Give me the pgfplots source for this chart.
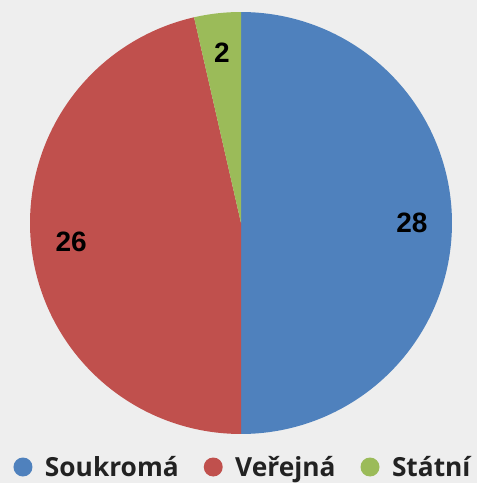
\documentclass[border=0pt]{standalone}
\usepackage{pgfplots}
\pgfplotsset{compat=1.18}
\usepackage{pgfplotstable}
\usepackage{fontspec}
\setmainfont{Open Sans}
\newfontfamily\numfont{Liberation Sans}

\definecolor{bg}{HTML}{EEEEEE}
\definecolor{cS}{HTML}{4F81BD}
\definecolor{cV}{HTML}{C0504D}
\definecolor{cT}{HTML}{9BBB59}
\definecolor{txt}{HTML}{222222}

\pgfplotstableread{
label    value
Soukroma 28
Verejna  26
Statni   2
}\piedata

\pgfplotstablegetelem{0}{value}\of\piedata \let\vA\pgfplotsretval
\pgfplotstablegetelem{1}{value}\of\piedata \let\vB\pgfplotsretval
\pgfplotstablegetelem{2}{value}\of\piedata \let\vC\pgfplotsretval
\pgfmathsetmacro\tot{\vA+\vB+\vC}
% slice boundaries, clockwise from 12 o'clock
\pgfmathsetmacro\aA{90}
\pgfmathsetmacro\aB{\aA-360*\vA/\tot}
\pgfmathsetmacro\aC{\aB-360*\vB/\tot}
\pgfmathsetmacro\aD{\aC-360*\vC/\tot}
% centre, radius, label radius (pt)
\def\cx{241}\def\cy{260}\def\R{211}\def\lr{171}
\pgfmathsetmacro\xA{\cx+\lr*cos((\aA+\aB)/2)}\pgfmathsetmacro\yA{\cy+\lr*sin((\aA+\aB)/2)}
\pgfmathsetmacro\xB{\cx+\lr*cos((\aB+\aC)/2)}\pgfmathsetmacro\yB{\cy+\lr*sin((\aB+\aC)/2)}
\pgfmathsetmacro\xC{\cx+\lr*cos((\aC+\aD)/2)}\pgfmathsetmacro\yC{\cy+\lr*sin((\aC+\aD)/2)}

\begin{document}
\begin{tikzpicture}
\fill[bg] (0,0) rectangle (477pt,483pt);
\begin{axis}[
    x=1pt, y=1pt,
    xmin=0, xmax=477, ymin=0, ymax=483,
    hide axis, clip=false,
    samples=150,
    legend columns=-1,
    legend style={draw=none, fill=none,
        at={(242pt,16pt)}, anchor=center,
        font=\fontsize{26.3}{30}\selectfont\bfseries\color{txt},
        nodes={inner sep=0pt},
        /tikz/every odd column/.append style={column sep=12.5pt},
        /tikz/every even column/.append style={column sep=25pt},
        inner sep=0pt},
    legend image code/.code={\path[#1] (0pt,0pt) circle (9.5pt);},
]
\addplot[fill=cS, draw=none, domain=\aB:\aA] ({\cx+\R*cos(x)},{\cy+\R*sin(x)}) -- (axis cs:\cx,\cy) -- cycle;
\addlegendentry{Soukromá}
\addplot[fill=cV, draw=none, domain=\aC:\aB] ({\cx+\R*cos(x)},{\cy+\R*sin(x)}) -- (axis cs:\cx,\cy) -- cycle;
\addlegendentry{Veřejná}
\addplot[fill=cT, draw=none, domain=\aD:\aC] ({\cx+\R*cos(x)},{\cy+\R*sin(x)}) -- (axis cs:\cx,\cy) -- cycle;
\addlegendentry{Státní}
\node[font=\numfont\fontsize{28}{30}\selectfont\bfseries] at (axis cs:\xA,\yA) {\vA};
\node[font=\numfont\fontsize{28}{30}\selectfont\bfseries] at (axis cs:\xB,\yB) {\vB};
\node[font=\numfont\fontsize{28}{30}\selectfont\bfseries] at (axis cs:\xC,\yC) {\vC};
\end{axis}
\pgfresetboundingbox
\path (0,0) rectangle (477pt,483pt);
\end{tikzpicture}
\end{document}
